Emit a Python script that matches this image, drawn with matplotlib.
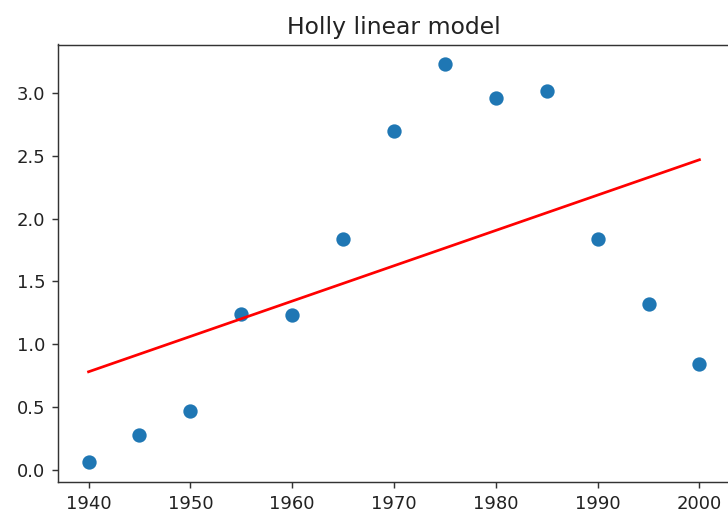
import matplotlib
matplotlib.use("Agg")
import matplotlib.pyplot as plt

years = [1940, 1945, 1950, 1955, 1960, 1965, 1970, 1975, 1980, 1985, 1990, 1995, 2000]
values = [0.06, 0.28, 0.47, 1.24, 1.23, 1.84, 2.70, 3.23, 2.96, 3.02, 1.84, 1.32, 0.84]

line_years = [1940, 2000]
line_values = [0.78, 2.47]

title = "Holly linear model"

fig = plt.figure(figsize=(5.6, 515 / 130), dpi=130)
ax = fig.add_axes([58 / 728, 1 - 482 / 515, 672 / 728, (482 - 44.5) / 515])
ax.scatter(years, values, s=48)
ax.plot(line_years, line_values, color="red")
ax.set_title(title, fontsize=13, color="#222222")
for sp in ax.spines.values():
    sp.set_color("#333333")
ax.tick_params(colors="#333333", labelcolor="#222222")
fig.savefig("out.png", dpi=130)
